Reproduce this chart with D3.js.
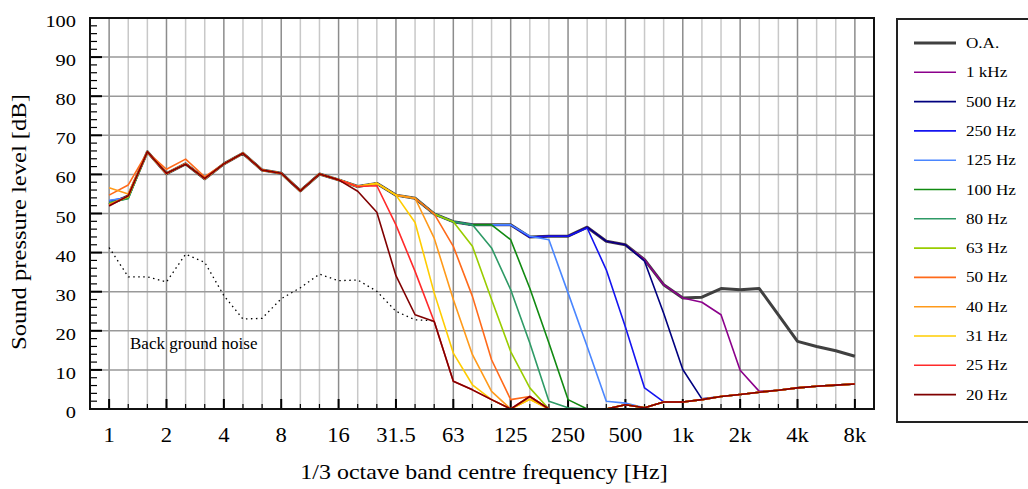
<!DOCTYPE html>
<html>
<head>
<meta charset="utf-8">
<script src="https://cdn.jsdelivr.net/npm/d3@7"></script>
<style>
  body { margin: 0; background: #fff; }
  svg { display: block; font-family: "Liberation Serif", "Times New Roman", serif; }
</style>
</head>
<body>
<div id="chart"></div>
<script>
// 1/3 octave bands, 1 Hz .. 8 kHz
var bands = ["1","1.25","1.6","2","2.5","3.15","4","5","6.3","8","10","12.5","16","20","25","31.5",
  "40","50","63","80","100","125","160","200","250","315","400","500","630","800",
  "1k","1.25k","1.6k","2k","2.5k","3.15k","4k","5k","6.3k","8k"];
var tickLabels = ["1","2","4","8","16","31.5","63","125","250","500","1k","2k","4k","8k"];
var yTicks = [0,10,20,30,40,50,60,70,80,90,100];

// dB per band
var oa   = [52.3,54.5,65.8,60.2,62.7,58.9,62.7,65.4,61.1,60.3, 55.8,60.1,58.6,56.9,57.7,54.7,53.9,49.9,47.9,47.1,
            47.1,47.1,44.0,44.2,44.2,46.5,42.9,42.0,38.2,31.8, 28.4,28.6,30.8,30.5,30.8,24.1,17.3,16.0,14.9,13.5];
var f1k  = [52.5,54.4,65.8,60.2,62.7,58.9,62.7,65.4,61.1,60.3, 55.8,60.1,58.6,56.9,57.7,54.7,53.9,49.9,47.9,47.1,
            47.1,47.1,44.0,44.2,44.2,46.5,42.9,42.0,38.2,31.8, 28.4,27.3,24.1,9.9,4.5,4.8,5.4,5.8,6.1,6.4];
var f500 = [52.6,54.3,65.8,60.2,62.7,58.9,62.7,65.4,61.1,60.3, 55.8,60.1,58.6,56.9,57.7,54.7,53.9,49.9,47.9,47.1,
            47.1,47.1,44.0,44.2,44.2,46.5,42.9,42.0,37.8,24.5, 10.1,2.6,3.2,3.7,4.3,4.8,5.4,5.8,6.1,6.4];
var f250 = [53.2,54.2,65.8,60.2,62.7,58.9,62.7,65.4,61.1,60.3, 55.8,60.1,58.6,56.9,57.7,54.7,53.9,49.9,47.9,47.1,
            47.1,47.1,44.0,44.2,44.2,46.3,35.6,21.0,5.4,1.8, 1.8,2.4,3.2,3.7,4.3,4.8,5.4,5.8,6.1,6.4];
var f125 = [53.4,54.0,65.8,60.2,62.7,58.9,62.7,65.4,61.1,60.3, 55.8,60.1,58.6,56.9,57.7,54.7,53.9,49.9,47.9,47.1,
            47.1,47.1,44.2,43.3,29.7,16.0,2.0,1.5,0.3,1.8, 1.8,2.4,3.2,3.7,4.3,4.8,5.4,5.8,6.1,6.4];
var f100 = [52.6,53.9,65.8,60.2,62.7,58.9,62.7,65.4,61.1,60.3, 55.8,60.1,58.6,56.9,57.7,54.7,53.9,49.9,47.9,47.1,
            47.1,43.3,30.9,16.9,2.4,0,0,1.1,0.3,1.8, 1.8,2.4,3.2,3.7,4.3,4.8,5.4,5.8,6.1,6.4];
var f80  = [52.8,53.8,65.8,60.2,62.7,58.9,62.7,65.4,61.1,60.3, 55.8,60.1,58.6,56.9,57.7,54.7,53.9,49.9,47.9,47.1,
            41.2,30.5,16.9,2.0,0.3,0,0,1.1,0.3,1.8, 1.8,2.4,3.2,3.7,4.3,4.8,5.4,5.8,6.1,6.4];
var f63  = [52.4,54.2,65.8,60.2,62.7,58.9,62.7,65.4,61.1,60.3, 55.8,60.1,58.6,56.9,57.7,54.7,53.9,49.9,47.9,41.6,
            28.0,14.7,5.4,0,0,0,0,1.1,0.3,1.8, 1.8,2.4,3.2,3.7,4.3,4.8,5.4,5.8,6.1,6.4];
var f50  = [54.7,57.3,65.7,61.3,63.9,59.4,62.7,65.4,61.1,60.3, 55.8,60.1,58.6,56.9,57.7,54.7,53.9,49.9,41.6,28.8,
            12.6,2.4,3.2,0,0,0,0,1.1,0.3,1.8, 1.8,2.4,3.2,3.7,4.3,4.8,5.4,5.8,6.1,6.4];
var f40  = [56.6,55.0,65.7,60.3,62.7,58.9,62.7,65.4,61.1,60.3, 55.8,60.1,58.6,56.9,57.7,54.7,53.9,43.7,28.0,13.9,
            4.5,0,2.5,0,0,0,0,1.1,0.3,1.8, 1.8,2.4,3.2,3.7,4.3,4.8,5.4,5.8,6.1,6.4];
var f31  = [52.2,54.4,65.8,60.2,62.7,58.9,62.7,65.4,61.1,60.3, 55.8,60.1,58.6,56.9,57.7,54.7,47.7,29.7,14.3,6.2,
            2.4,0,2.5,0,0,0,0,1.1,0.3,1.8, 1.8,2.4,3.2,3.7,4.3,4.8,5.4,5.8,6.1,6.4];
var f25  = [52.1,54.5,65.8,60.2,62.7,58.9,62.7,65.4,61.1,60.3, 55.8,60.1,58.6,56.9,57.1,47.1,35.2,22.4,7.1,4.9,
            2.4,0,3.2,0,0,0,0,1.1,0.3,1.8, 1.8,2.4,3.2,3.7,4.3,4.8,5.4,5.8,6.1,6.4];
var f20  = [51.9,54.5,65.8,60.3,62.6,59.0,62.7,65.4,61.1,60.3, 55.8,60.1,58.6,55.7,50.3,34.1,24.1,22.4,7.1,4.9,
            2.4,0,3.2,0,0,0,0,1.1,0.3,1.8, 1.8,2.4,3.2,3.7,4.3,4.8,5.4,5.8,6.1,6.4];
// background noise, 1 Hz .. 50 Hz
var noise = [41.3,33.8,33.8,32.5,39.6,37.5,29.0,23.0,23.2,28.2,31.0,34.5,32.8,33.0,30.1,25.0,22.8,22.6];

var seriesNames  = ["O.A.","1 kHz","500 Hz","250 Hz","125 Hz","100 Hz","80 Hz","63 Hz","50 Hz","40 Hz","31 Hz","25 Hz","20 Hz"];
var seriesValues = [oa, f1k, f500, f250, f125, f100, f80, f63, f50, f40, f31, f25, f20];
var seriesColors = ["#404040","#8b008b","#00007f","#1414f0","#4a86ff","#118a11","#2e9a66","#99cc00",
                    "#ff6a1a","#ff9a1a","#ffcc00","#ff2a2a","#800000"];

const W = 1028, H = 489;
const plot = { left: 90, right: 874, top: 18, bottom: 409 };

const svg = d3.select("#chart").append("svg")
  .attr("width", W).attr("height", H);

const x = d3.scalePoint().domain(bands).range([plot.left, plot.right]).padding(1);
const y = d3.scaleLinear().domain([0, 100]).range([plot.bottom, plot.top]);

// text with horizontal stretch (the source font runs wider than Times)
function label(g, px, py, str, size, anchor, sx, rot) {
  return g.append("text")
    .attr("transform", `translate(${px},${py})` + (rot ? ` rotate(${rot})` : "") + ` scale(${sx},1)`)
    .attr("text-anchor", anchor)
    .attr("font-size", size)
    .attr("fill", "#000")
    .text(str);
}

// grid
const grid = svg.append("g");
grid.selectAll(".vg").data(bands).enter().append("line")
  .attr("x1", d => x(d)).attr("x2", d => x(d))
  .attr("y1", plot.top).attr("y2", plot.bottom)
  .attr("stroke", d => tickLabels.includes(d) ? "#8c8c8c" : "#c8c8c8")
  .attr("stroke-width", 1.5);
grid.selectAll(".hg").data(yTicks.filter(v => v > 0 && v < 100)).enter().append("line")
  .attr("x1", plot.left).attr("x2", plot.right)
  .attr("y1", d => y(d)).attr("y2", d => y(d))
  .attr("stroke", "#999").attr("stroke-width", 1.5);

// ticks
const ax = svg.append("g");
ax.selectAll(".ymin").data(d3.range(0, 101, 2)).enter().append("line")
  .attr("x1", plot.left).attr("x2", d => plot.left + (d % 10 === 0 ? 12 : 7))
  .attr("y1", d => y(d)).attr("y2", d => y(d))
  .attr("stroke", "#000").attr("stroke-width", d => d % 10 === 0 ? 2 : 1.2);
ax.selectAll(".xt").data(bands).enter().append("line")
  .attr("x1", d => x(d)).attr("x2", d => x(d))
  .attr("y1", plot.bottom).attr("y2", d => plot.bottom - (tickLabels.includes(d) ? 10 : 5))
  .attr("stroke", "#000").attr("stroke-width", d => tickLabels.includes(d) ? 2 : 1.2);

// background noise
const line = d3.line().x((d, i) => x(bands[i])).y(d => y(d));
svg.append("path")
  .attr("d", line(noise))
  .attr("fill", "none").attr("stroke", "#000")
  .attr("stroke-width", 1.3).attr("stroke-dasharray", "1.5,3.5");
label(svg, 130, 349, "Back ground noise", 17, "start", 1.0);

// series, O.A. first so 20 Hz ends on top
svg.selectAll(".series").data(seriesValues).enter().append("path")
  .attr("d", d => line(d))
  .attr("fill", "none")
  .attr("stroke", (d, i) => seriesColors[i])
  .attr("stroke-width", (d, i) => i === 0 ? 3 : 1.6)
  .attr("stroke-linejoin", "round");

// frame
svg.append("rect")
  .attr("x", plot.left).attr("y", plot.top)
  .attr("width", plot.right - plot.left).attr("height", plot.bottom - plot.top)
  .attr("fill", "none").attr("stroke", "#111").attr("stroke-width", 2);

// tick labels
yTicks.forEach(v => label(svg, 76, y(v) + 9, String(v), 17, "end", 1.2));
tickLabels.forEach(t => label(svg, x(t), 442, t, 20, "middle", 1.13));

// axis titles
label(svg, 484, 479, "1/3 octave band centre frequency [Hz]", 21, "middle", 1.14);
label(svg, 26, 222, "Sound pressure level [dB]", 21, "middle", 1.17, -90);

// legend
const leg = svg.append("g");
leg.append("rect")
  .attr("x", 897).attr("y", 19).attr("width", 140).attr("height", 403)
  .attr("fill", "#fff").attr("stroke", "#222").attr("stroke-width", 2);
seriesNames.forEach((name, i) => {
  const ly = 43 + i * 29.3;
  leg.append("line")
    .attr("x1", 914).attr("x2", 956).attr("y1", ly).attr("y2", ly)
    .attr("stroke", seriesColors[i]).attr("stroke-width", i === 0 ? 3 : 1.6);
  label(leg, 966, ly + 5, name, 14.5, "start", 1.18);
});
</script>
</body>
</html>
